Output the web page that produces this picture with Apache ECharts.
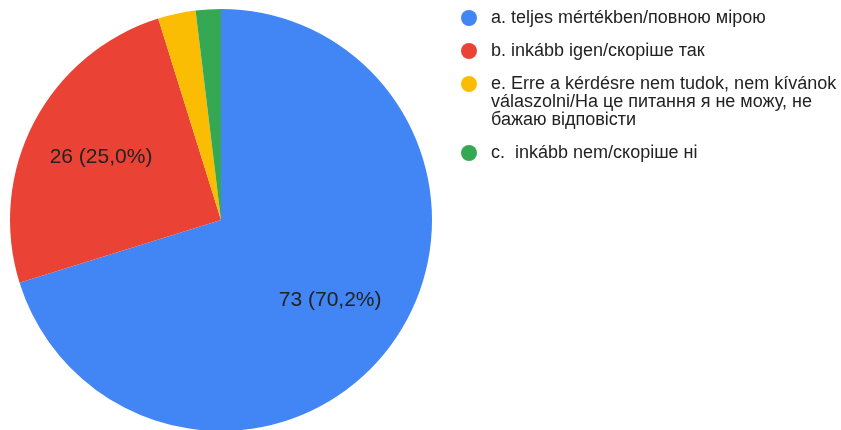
<!DOCTYPE html>
<html>
<head>
<meta charset="utf-8">
<script src="https://cdn.jsdelivr.net/npm/echarts@6/dist/echarts.min.js"></script>
<style>
html, body { margin: 0; padding: 0; background: #fff; }
#chart { width: 841px; height: 430px; }
</style>
</head>
<body>
<div id="chart"></div>
<script>
// válaszok (slice order = clockwise from top)
var names = [
	'a. teljes mértékben/повною мірою',
	'b. inkább igen/скоріше так',
	'e. Erre a kérdésre nem tudok, nem kívánok\nválaszolni/На це питання я не можу, не\nбажаю відповісти',
	'c.  inkább nem/скоріше ні'
];
var values = [73, 26, 3, 2];
var colors = ['#4285f4', '#ea4335', '#fbbc04', '#34a853'];
var legendTops = [9, 42, 39, 144];

var total = values.reduce(function (a, b) { return a + b; }, 0);

var chart = echarts.init(document.getElementById('chart'));

var pieData = names.map(function (n, i) {
	return { name: n, value: values[i], itemStyle: { color: colors[i] } };
});

// one legend per item so the wrapped one can sit its dot on the first line
var legends = names.map(function (n, i) {
	return {
		orient: 'vertical',
		left: 461,
		top: legendTops[i],
		padding: 0,
		icon: 'circle',
		itemWidth: 16,
		itemHeight: 16,
		selectedMode: false,
		itemStyle: { borderWidth: 0 },
		data: [n],
		formatter: function (name) {
			return name.indexOf('\n') >= 0 ? '\n\n' + name : name;
		},
		textStyle: {
			fontFamily: 'Liberation Sans, Arial',
			fontSize: 18,
			lineHeight: 18,
			color: '#222',
			padding: [0, 0, 0, 9]
		}
	};
});

var option = {
	backgroundColor: '#fff',
	animation: false,
	legend: legends,
	series: [
		{
			name: 'pie',
			type: 'pie',
			center: [221, 220],
			radius: [0, 211],
			startAngle: 90,
			clockwise: true,
			label: { show: false },
			labelLine: { show: false },
			itemStyle: { borderWidth: 0 },
			emphasis: { disabled: true },
			data: pieData
		},
		{
			// invisible twin, only to place the value labels further out
			name: 'labels',
			type: 'pie',
			center: [221, 220],
			radius: [0, 265],
			startAngle: 90,
			clockwise: true,
			silent: true,
			legendHoverLink: false,
			itemStyle: { color: 'rgba(0,0,0,0)' },
			label: {
				show: true,
				position: 'inside',
				fontFamily: 'Liberation Sans, Arial',
				fontSize: 21,
				color: '#222',
				formatter: function (p) {
					if (p.value / total < 0.05) return '';
					return p.value + ' (' + (p.value / total * 100).toFixed(1).replace('.', ',') + '%)';
				}
			},
			labelLine: { show: false },
			emphasis: { disabled: true },
			data: values.map(function (v, i) { return { name: names[i] + ' ', value: v }; })
		}
	]
};
chart.setOption(option);
</script>
</body>
</html>
